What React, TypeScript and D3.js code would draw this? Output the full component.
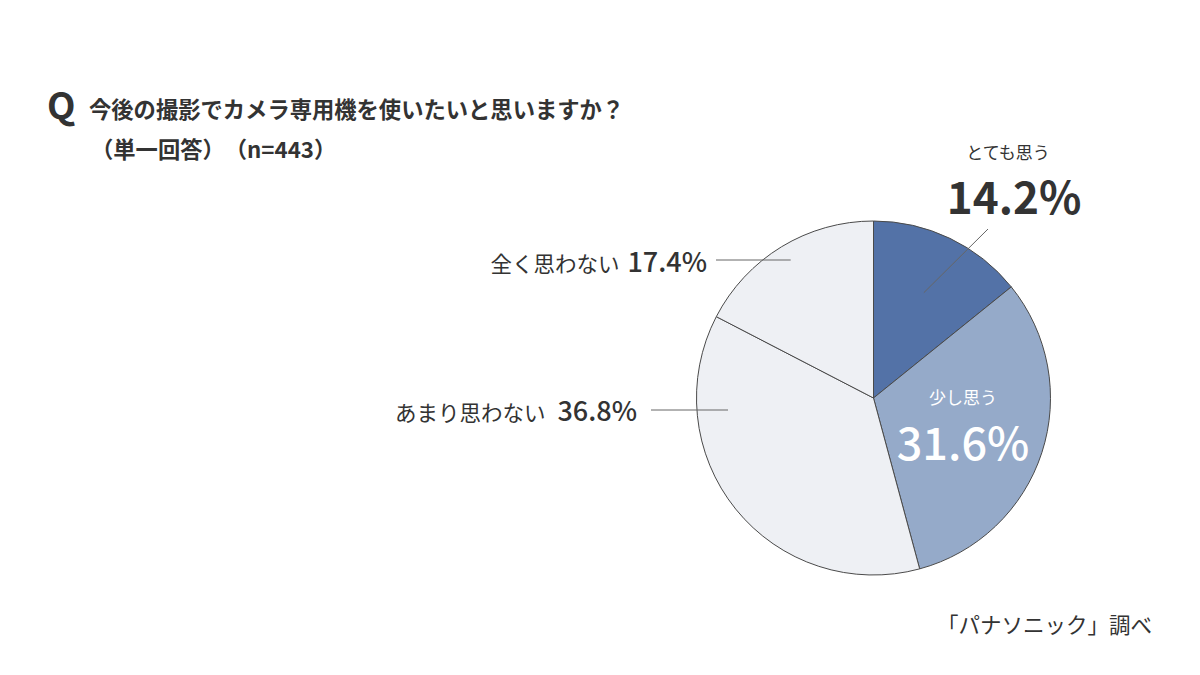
import React from "react";
import * as d3 from "d3";

const categories = ["とても思う", "少し思う", "あまり思わない", "全く思わない"];
const values = [14.2, 31.6, 36.8, 17.4];
const colors = ["#5372a7", "#95aac9", "#eef0f4", "#eef0f4"];
const titleQ = "Q";
const titleText = "今後の撮影でカメラ専用機を使いたいと思いますか？";
const subtitle = "（単一回答）\u3000（n=443）";
const sourceText = "「パナソニック」調べ";

const W = 1200;
const H = 675;
const cx = 873.5;
const cy = 398;
const R = 177;
const FONT = "'Noto Sans CJK JP', 'Noto Sans', sans-serif";

export default function App() {
  const pie = d3.pie<number>().sort(null).value((d) => d);
  const arcs = pie(values);
  const arcGen = d3.arc<d3.PieArcDatum<number>>().innerRadius(0).outerRadius(R);
  const fmt = (v: number) => `${v.toFixed(1)}%`;

  const pt = (i: number, rr: number) => {
    const a = (arcs[i].startAngle + arcs[i].endAngle) / 2;
    return [cx + rr * Math.sin(a), cy - rr * Math.cos(a)];
  };
  const p0 = pt(0, R * 0.66);
  const p3 = pt(3, R * 0.9);

  return (
    <svg width={W} height={H} style={{ position: "absolute", left: 0, top: 0, background: "#fff" }} fontFamily={FONT}>
      <rect width={W} height={H} fill="#fff" />
      <text x={47} y={119} fontSize={37} fontWeight={700} fill="#333">{titleQ}</text>
      <text x={89} y={118} fontSize={22.3} fontWeight={700} fill="#333">{titleText}</text>
      <text x={91} y={158} fontSize={22.3} fontWeight={700} fill="#333">{subtitle}</text>

      <g>
        {arcs.map((a, i) => (
          <path key={i} d={arcGen(a) || ""} transform={`translate(${cx},${cy})`} fill={colors[i]} stroke="#4a4a4a" strokeWidth={1} />
        ))}
      </g>

      <line x1={p0[0]} y1={p0[1]} x2={988} y2={229} stroke="#666" strokeWidth={1} />
      <line x1={716} y1={260} x2={p3[0]} y2={260} stroke="#666" strokeWidth={1} />
      <line x1={651} y1={410} x2={728} y2={410} stroke="#666" strokeWidth={1} />

      <text x={1008} y={159} fontSize={17} textAnchor="middle" fill="#333">{categories[0]}</text>
      <text x={1014} y={214} fontSize={44} fontWeight={700} textAnchor="middle" fill="#333">{fmt(values[0])}</text>

      <text x={963} y={404} fontSize={17} textAnchor="middle" fill="#fff">{categories[1]}</text>
      <text x={963} y={460} fontSize={45} fontWeight={500} textAnchor="middle" fill="#fff">{fmt(values[1])}</text>

      <text x={707} y={272} textAnchor="end" fill="#333">
        <tspan fontSize={21.5}>{categories[3]}</tspan>
        <tspan fontSize={27} fontWeight={500} dx={8}>{fmt(values[3])}</tspan>
      </text>

      <text x={637} y={421} textAnchor="end" fill="#333">
        <tspan fontSize={21.5}>{categories[2]}</tspan>
        <tspan fontSize={27} fontWeight={500} dx={12}>{fmt(values[2])}</tspan>
      </text>

      <text x={1152} y={633} fontSize={21.5} textAnchor="end" fill="#333">{sourceText}</text>
    </svg>
  );
}
